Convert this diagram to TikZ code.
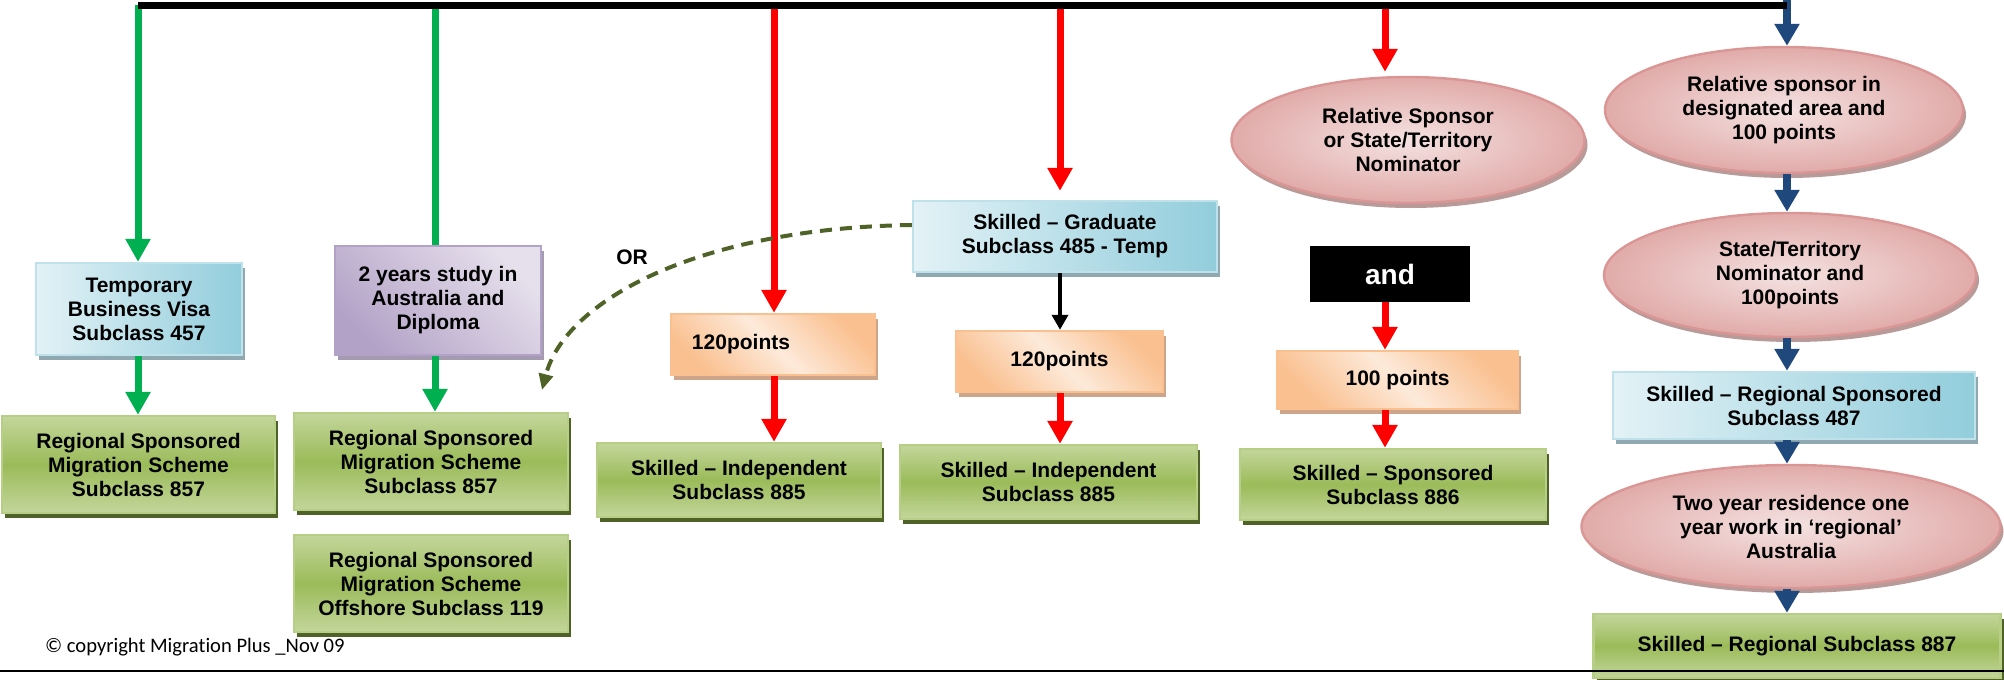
\documentclass[tikz,border=0pt]{standalone}
\usepackage{fontspec}
\setmainfont{Liberation Sans}
\newfontfamily\copyfont{Carlito}[Ligatures=NoCommon]
\usepackage{tikz}
\usetikzlibrary{shapes.geometric, arrows.meta}
\usetikzlibrary{shadows}
\definecolor{vgreen}{HTML}{00B050}
\definecolor{vred}{HTML}{FF0000}
\definecolor{vblue}{HTML}{1F497D}
\definecolor{olive}{HTML}{4F6228}
\definecolor{blueL}{HTML}{E3F2F6}
\definecolor{blueD}{HTML}{92CDDC}
\definecolor{blueS}{HTML}{8FA8B2}
\definecolor{greenL}{HTML}{C3D69B}
\definecolor{greenD}{HTML}{9BBB59}
\definecolor{greenS}{HTML}{4F6228}
\definecolor{orangeL}{HTML}{FDEADA}
\definecolor{orangeD}{HTML}{FAC090}
\definecolor{orangeS}{HTML}{CDA58A}
\definecolor{purpleL}{HTML}{E6E0EC}
\definecolor{purpleD}{HTML}{B3A2C7}
\definecolor{purpleS}{HTML}{A49BB1}
\definecolor{pinkL}{HTML}{F4E2E1}
\definecolor{pinkD}{HTML}{D99694}
\definecolor{pinkS}{HTML}{B89A99}
\tikzstyle{box} = [rectangle, line width=1.2pt, align=center, inner sep=2pt, font=\bfseries\fontsize{10.5}{12}\selectfont]
\tikzstyle{bluebox} = [box, draw=blueD!60!white, left color=blueL, right color=blueD, drop shadow={shadow xshift=1.5pt, shadow yshift=-2.5pt, fill=blueS, opacity=1}]
\tikzstyle{greenbox} = [box, draw=greenL!70!greenD, top color=greenL, bottom color=greenL, middle color=greenD, drop shadow={shadow xshift=1.5pt, shadow yshift=-2.5pt, fill=greenS, opacity=1}]
\tikzstyle{orangebox} = [box, draw=orangeD, top color=orangeD, bottom color=orangeD, middle color=orangeL, shading angle=135, drop shadow={shadow xshift=1.5pt, shadow yshift=-2.5pt, fill=orangeS, opacity=1}]
\tikzstyle{purplebox} = [box, draw=purpleD, left color=purpleD, right color=purpleL, shading angle=135, drop shadow={shadow xshift=1.5pt, shadow yshift=-2.5pt, fill=purpleS, opacity=1}]
\tikzstyle{pinkoval} = [box, ellipse, inner sep=0pt, draw=pinkD, inner color=pinkL, outer color=pinkD!80!white, drop shadow={shadow xshift=1.5pt, shadow yshift=-2.5pt, fill=pinkS, opacity=1}]
\tikzstyle{andbox} = [rectangle, fill=black, text=white, font=\bfseries\fontsize{14}{16}\selectfont, minimum width=80pt, minimum height=28pt]
\tikzstyle{gline} = [draw=vgreen, line width=3.5pt]
\tikzstyle{garrow} = [gline, -{Triangle[width=12pt,length=11.5pt]}]
\tikzstyle{rarrow} = [draw=vred, line width=3.5pt, -{Triangle[width=12pt,length=11.5pt]}]
\tikzstyle{barrow} = [draw=vblue, line width=4pt, -{Triangle[width=12pt,length=11pt]}]
\tikzstyle{karrow} = [draw=black, line width=1.8pt, -{Triangle[width=8pt,length=7.5pt]}]
\tikzstyle{orarrow} = [draw=olive, line width=2pt, dash pattern=on 6pt off 4pt, -{Triangle[width=7pt,length=8pt]}]

\begin{document}
\begin{tikzpicture}[x=0.5pt,y=-0.5pt]
	\useasboundingbox (0,0) rectangle (2004,680);
	\foreach \n/\x in {1/138,2/435,3/774,4/1060,5/1385,6/1787}
	\coordinate (top\n) at (\x,5);
	\node[bluebox, minimum width=103pt, minimum height=46pt] (temp) at (139,309) {Temporary\\Business Visa\\Subclass 457};
	\node[greenbox, minimum width=136.5pt, minimum height=48.5pt] (rsms1) at (138.5,464.5) {Regional Sponsored\\Migration Scheme\\Subclass 857};
	\node[purplebox, minimum width=103pt, minimum height=54.5pt] (study) at (438,300.5) {2 years study in\\Australia and\\Diploma};
	\node[greenbox, minimum width=137pt, minimum height=48.5pt] (rsms2) at (431,461.5) {Regional Sponsored\\Migration Scheme\\Subclass 857};
	\node[greenbox, minimum width=137pt, minimum height=48.5pt] (rsms3) at (431,583.5) {Regional Sponsored\\Migration Scheme\\Offshore Subclass 119};
	\node[orangebox, minimum width=102pt, minimum height=30.5pt] (pts1) at (773,344.5) {120points\hspace*{32pt}};
	\node[greenbox, minimum width=142pt, minimum height=37pt] (ind1) at (739,480) {Skilled – Independent\\Subclass 885};
	\node[bluebox, minimum width=152pt, minimum height=35.5pt] (grad) at (1065,236.5) {Skilled – Graduate\\Subclass 485 - Temp};
	\node[orangebox, minimum width=103.5pt, minimum height=30.5pt] (pts2) at (1059.5,361.5) {120points};
	\node[greenbox, minimum width=148.5pt, minimum height=37pt] (ind2) at (1048.5,482) {Skilled – Independent\\Subclass 885};
	\node[pinkoval, minimum width=176.5pt, minimum height=63pt] (relsp) at (1408,140) {Relative Sponsor\\or State/Territory\\Nominator};
	\node[andbox] (andnode) at (1390,274) {and};
	\node[orangebox, minimum width=120.5pt, minimum height=29pt] (pts3) at (1397.5,380) {100 points};
	\node[greenbox, minimum width=153pt, minimum height=35.5pt] (spons) at (1393,484.5) {Skilled – Sponsored\\Subclass 886};
	\node[pinkoval, minimum width=179pt, minimum height=63pt] (desig) at (1784,110) {Relative sponsor in\\designated area and\\100 points};
	\node[pinkoval, minimum width=186pt, minimum height=62pt] (nomin) at (1790,275) {State/Territory\\Nominator and\\100points};
	\node[bluebox, minimum width=181pt, minimum height=33.5pt] (reg487) at (1794,405.5) {Skilled – Regional Sponsored\\Subclass 487};
	\node[pinkoval, minimum width=209.5pt, minimum height=61.5pt] (resid) at (1791,526.5) {Two year residence one\\year work in ‘regional’\\Australia};
	\node[greenbox, minimum width=203.5pt, minimum height=32pt] (reg887) at (1797,646) {Skilled – Regional Subclass 887};
	\node[font=\bfseries\fontsize{10.5}{12}\selectfont] (ortext) at (632,257) {OR};
	\node[anchor=base west, font=\copyfont\fontsize{10.3}{12}\selectfont] (copy) at (38,652) {© copyright Migration Plus \_Nov 09};
	\coordinate (ortip) at (542,390);
	\draw[garrow] (top1) -- (top1 |- temp.north);
	\draw[garrow] (top1 |- temp.south) -- (top1 |- rsms1.north);
	\draw[gline] (top2) -- (top2 |- study.north);
	\draw[garrow] (top2 |- study.south) -- (top2 |- rsms2.north);
	\draw[rarrow] (top3) -- (top3 |- pts1.north);
	\draw[rarrow] (top3 |- pts1.south) -- (top3 |- ind1.north);
	\draw[rarrow] (top4) -- ([yshift=4.5pt]top4 |- grad.north);
	\draw[karrow] (top4 |- grad.south) -- (top4 |- pts2.north);
	\draw[rarrow] (top4 |- pts2.south) -- (top4 |- ind2.north);
	\draw[rarrow] (top5) -- ([yshift=2pt]top5 |- relsp.north);
	\draw[rarrow] (top5 |- andnode.south) -- (top5 |- pts3.north);
	\draw[rarrow] (top5 |- pts3.south) -- (top5 |- spons.north);
	\draw[barrow] (top6 |- 0,0) -- (top6 |- desig.north);
	\draw[barrow] (top6 |- desig.south) -- (top6 |- nomin.north);
	\draw[barrow] (top6 |- nomin.south) -- (top6 |- reg487.north);
	\draw[barrow] (top6 |- reg487.south) -- (top6 |- resid.north);
	\draw[barrow] (top6 |- resid.south) -- (top6 |- reg887.north);
	\draw[orarrow] ([yshift=5.75pt]grad.west) .. controls (700,228) and (565,300) .. (ortip);
	\draw[line width=3.5pt] (top1) -- (top6);
	\draw[line width=1.3pt] (0,671) -- (2004,671);
\end{tikzpicture}
\end{document}
